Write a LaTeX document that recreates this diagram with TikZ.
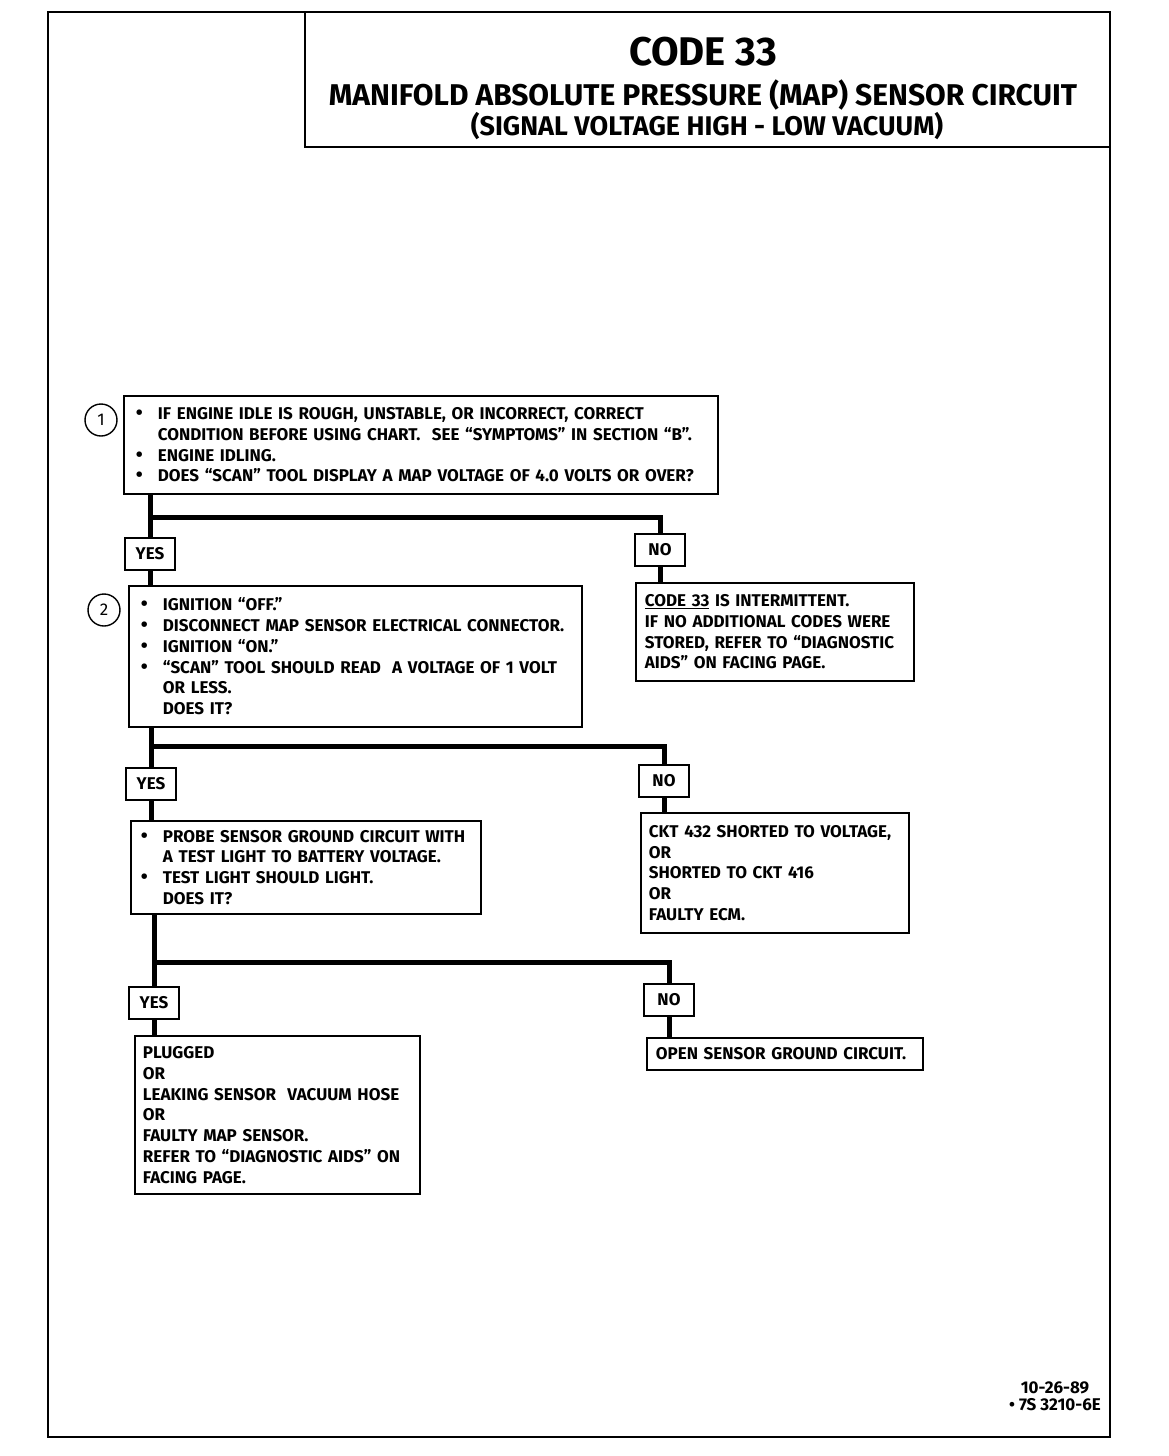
\documentclass[tikz,border=0pt]{standalone}
\usepackage{fontspec}
\setmainfont{Fira Sans}
\usepackage{tikz}
\usetikzlibrary{positioning}
\newcommand{\bul}{\makebox[22pt][l]{\fontsize{20}{20}\selectfont\textbullet}}
\newcommand{\ind}{\hspace*{22pt}}

\begin{document}
\begin{tikzpicture}[
    x=1pt, y=-1pt,
    every node/.style={font=\bfseries\fontsize{17}{20.8}\selectfont, inner sep=0pt},
    box/.style={draw, line width=1.8pt, anchor=north west, align=left, inner xsep=10pt},
    tag/.style={draw, line width=1.8pt, minimum width=50pt, minimum height=32pt},
    num/.style={circle, draw, line width=1.4pt, minimum size=32pt, font=\fontsize{17}{17}\selectfont},
    flow/.style={line width=5pt}
]
\useasboundingbox (0,0) rectangle (1168,1456);
\draw[line width=2.5pt] (48,12) rectangle (1110,1437);
\draw[line width=2pt] (305,12) |- (1110,147);

\node[font=\bfseries\fontsize{40}{44}\selectfont] (code) at (703,52) {CODE 33};
\node[font=\bfseries\fontsize{30}{34}\selectfont] (title) at (703,95) {MANIFOLD ABSOLUTE PRESSURE (MAP) SENSOR CIRCUIT};
\node[font=\bfseries\fontsize{27}{30}\selectfont] (sub) at (707,126) {(SIGNAL VOLTAGE HIGH - LOW VACUUM)};

\node[num] (c1) at (101,420) {1};
\node[box, inner xsep=12pt, text width=570pt, minimum height=98pt] (q1) at (123,395)
    {\bul IF ENGINE IDLE IS ROUGH, UNSTABLE, OR INCORRECT, CORRECT\\
     \ind CONDITION BEFORE USING CHART.\ \ SEE ``SYMPTOMS'' IN SECTION ``B''.\\
     \bul ENGINE IDLING.\\
     \bul DOES ``SCAN'' TOOL DISPLAY A MAP VOLTAGE OF 4.0 VOLTS OR OVER?};
\node[tag] (y1) at (150,554) {YES};
\node[tag] (n1) at (660,550) {NO};
\coordinate (j1) at (150,517);
\node[box, inner xsep=9pt, text width=260pt, minimum height=98pt] (r1) at (635,582)
    {\underline{CODE 33} IS INTERMITTENT.\\
     IF NO ADDITIONAL CODES WERE\\
     STORED, REFER TO ``DIAGNOSTIC\\
     AIDS'' ON FACING PAGE.};

\node[num] (c2) at (104,610) {2};
\node[box, inner xsep=12pt, text width=429pt, minimum height=141pt] (q2) at (128,585)
    {\bul IGNITION ``OFF.''\\
     \bul DISCONNECT MAP SENSOR ELECTRICAL CONNECTOR.\\
     \bul IGNITION ``ON.''\\
     \bul ``SCAN'' TOOL SHOULD READ\ \ A VOLTAGE OF 1 VOLT\\
     \ind OR LESS.\\
     \ind DOES IT?};
\node[tag] (y2) at (151,784) {YES};
\node[tag] (n2) at (664,781) {NO};
\coordinate (j2) at (151,746);
\node[box, inner xsep=8pt, text width=252pt, minimum height=120pt] (r2) at (640,812)
    {CKT 432 SHORTED TO VOLTAGE,\\
     OR\\
     SHORTED TO CKT 416\\
     OR\\
     FAULTY ECM.};

\node[box, inner xsep=10pt, text width=330pt, minimum height=93pt] (q3) at (130,820)
    {\bul PROBE SENSOR GROUND CIRCUIT WITH\\
     \ind A TEST LIGHT TO BATTERY VOLTAGE.\\
     \bul TEST LIGHT SHOULD LIGHT.\\
     \ind DOES IT?};
\node[tag] (y3) at (154,1003) {YES};
\node[tag] (n3) at (669,1000) {NO};
\coordinate (j3) at (154,962);
\node[box, inner xsep=8pt, text width=269pt, minimum height=158pt] (r3) at (134,1035)
    {PLUGGED\\
     OR\\
     LEAKING SENSOR\ \ VACUUM HOSE\\
     OR\\
     FAULTY MAP SENSOR.\\
     REFER TO ``DIAGNOSTIC AIDS'' ON\\
     FACING PAGE.};
\node[box, inner xsep=9pt, text width=258pt, minimum height=32pt] (r4) at (646,1037)
    {OPEN SENSOR GROUND CIRCUIT.};

\draw[flow] (q1.south -| y1) -- (y1.north);
\draw[flow] (y1.south) -- (q2.north -| y1);
\draw[flow] (j1) -| (n1.north);
\draw[flow] (n1.south) -- (r1.north -| n1);

\draw[flow] (q2.south -| y2) -- (y2.north);
\draw[flow] (y2.south) -- (q3.north -| y2);
\draw[flow] (j2) -| (n2.north);
\draw[flow] (n2.south) -- (r2.north -| n2);

\draw[flow] (q3.south -| y3) -- (y3.north);
\draw[flow] (y3.south) -- (r3.north -| y3);
\draw[flow] (j3) -| (n3.north);
\draw[flow] (n3.south) -- (r4.north -| n3);

\node[font=\bfseries\fontsize{17}{17}\selectfont, align=center] (ref) at (1055,1396)
    {10-26-89\\ \textbullet\ 7S 3210-6E};
\end{tikzpicture}
\end{document}
